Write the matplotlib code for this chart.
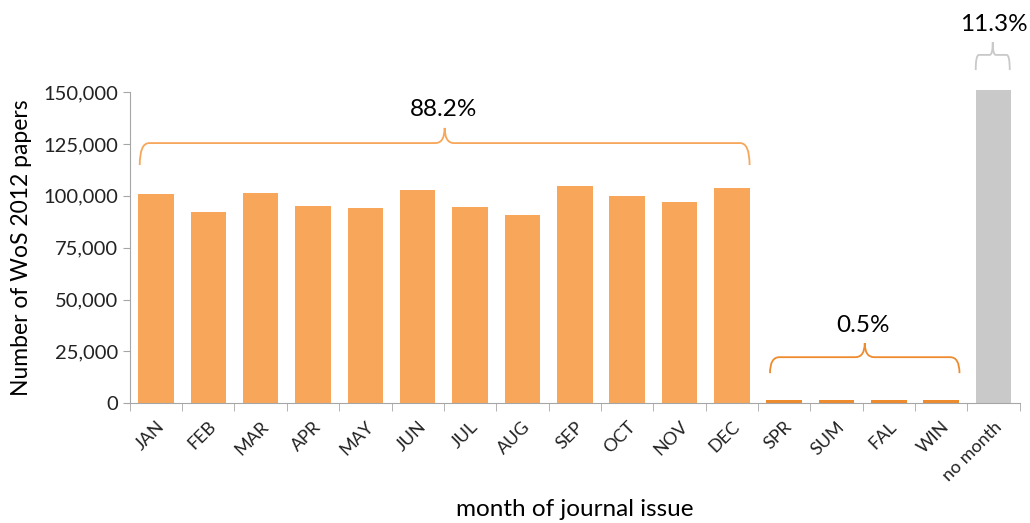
import matplotlib.pyplot as plt
import numpy as np
from matplotlib.path import Path
from matplotlib.patches import PathPatch

plt.rcParams['font.family'] = ['Lato', 'DejaVu Sans']

months = ['JAN', 'FEB', 'MAR', 'APR', 'MAY', 'JUN', 'JUL', 'AUG', 'SEP', 'OCT', 'NOV', 'DEC']
month_vals = [100800, 92100, 101300, 95000, 94100, 102700, 94500, 90700, 104700, 99900, 97000, 103700]
seasons = ['SPR', 'SUM', 'FAL', 'WIN']
season_vals = [1700, 1600, 1700, 1600]
nomonth = ['no month']
nomonth_vals = [151000]
shares = ['88.2%', '0.5%', '11.3%']

orange = '#F7A65A'
dark_orange = '#EE8B2E'
grey = '#C9C9C9'
axis_grey = '#A6A6A6'


def brace(ax, x0, x1, ylow, yhigh, ypeak, color):
    # curly brace opening downwards
    xm = (x0 + x1) / 2
    r = 0.18 * min(1, (x1 - x0) / 2)
    verts = [(x0, ylow), (x0, yhigh), (x0 + r, yhigh),
             (xm - r, yhigh), (xm, yhigh), (xm, ypeak),
             (xm, yhigh), (xm + r, yhigh),
             (x1 - r, yhigh), (x1, yhigh), (x1, ylow)]
    codes = [Path.MOVETO, Path.CURVE3, Path.CURVE3,
             Path.LINETO, Path.CURVE3, Path.CURVE3,
             Path.CURVE3, Path.CURVE3,
             Path.LINETO, Path.CURVE3, Path.CURVE3]
    p = PathPatch(Path(verts, codes), fill=False, edgecolor=color, lw=1.3, clip_on=False)
    ax.add_patch(p)


fig = plt.figure(figsize=(10.3, 5.23), dpi=100)
ax = fig.add_axes([0.126, 0.229, 0.864, 0.595])

labels = months + seasons + nomonth
x = np.arange(len(labels))
ax.bar(x[:12], month_vals, width=0.68, color=orange)
ax.bar(x[12:16], season_vals, width=0.68, color=dark_orange)
ax.bar(x[16:], nomonth_vals, width=0.68, color=grey, clip_on=False)

ax.set_xlim(-0.5, len(labels) - 0.5)
ax.set_ylim(0, 150000)
ax.set_yticks(np.arange(0, 150001, 25000))
ax.set_yticklabels([f'{v:,}' for v in range(0, 150001, 25000)])
ax.set_xticks(x)
ax.set_xticklabels(labels, rotation=45, ha='right', rotation_mode='anchor')
ax.set_xticks(np.arange(-0.5, len(labels)), minor=True)
ax.tick_params(axis='x', which='major', length=0, labelsize=13, pad=11, colors='#222222')
ax.tick_params(axis='x', which='minor', length=6, color=axis_grey)
ax.tick_params(axis='y', length=5, color=axis_grey, labelsize=14.5, labelcolor='#222222')

for s in ['top', 'right']:
    ax.spines[s].set_visible(False)
for s in ['left', 'bottom']:
    ax.spines[s].set_color(axis_grey)

ax.set_ylabel('Number of WoS 2012 papers', fontsize=16.5, labelpad=8)
ax.set_xlabel('month of journal issue', fontsize=17.5, labelpad=11)

brace(ax, -0.31, 11.34, 114800, 125400, 132700, orange)
brace(ax, 11.73, 15.35, 14500, 22200, 29000, dark_orange)
brace(ax, 15.66, 16.31, 160600, 167900, 174000, grey)

ax.text(5.5, 136500, shares[0], ha='center', va='bottom', fontsize=17.5)
ax.text(13.5, 32500, shares[1], ha='center', va='bottom', fontsize=17.5)
ax.text(16.0, 177500, shares[2], ha='center', va='bottom', fontsize=17.5, clip_on=False)

fig.savefig('out.png', dpi=100)
